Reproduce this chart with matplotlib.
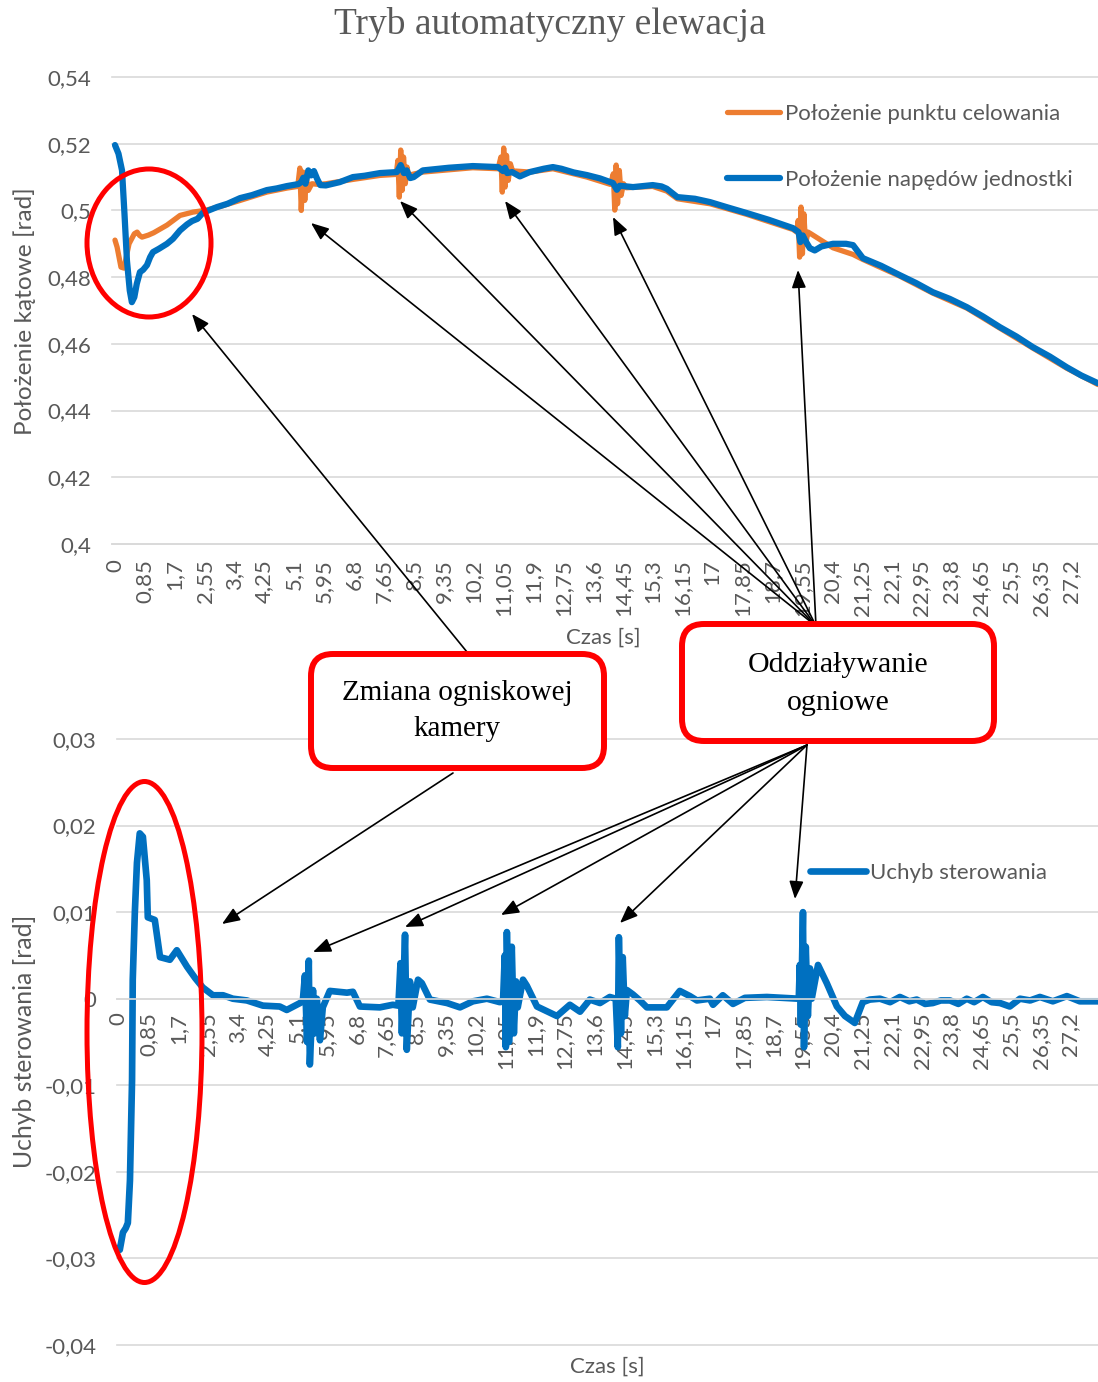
import matplotlib
matplotlib.use("Agg")
import matplotlib.pyplot as plt
from matplotlib.transforms import Affine2D
from matplotlib.patches import Ellipse, FancyBboxPatch, FancyArrowPatch

# ---------------- data ----------------
# aiming point position [rad]
aim_t = [0.00, 0.06, 0.17, 0.26, 0.32, 0.40, 0.55, 0.63, 0.70, 0.77, 0.95, 1.10, 1.48, 1.85,
         2.22, 2.56, 3.00, 3.56, 4.32, 4.89, 5.20,
         5.26, 5.30, 5.35, 5.40, 5.45, 5.50, 5.60, 5.80, 6.00, 6.77, 7.54, 8.00,
         8.05, 8.09, 8.13, 8.17, 8.21, 8.26, 8.31, 8.36, 8.45, 8.76, 10.18, 10.90,
         10.98, 11.02, 11.06, 11.10, 11.14, 11.19, 11.25, 11.32, 11.40, 11.80, 12.46, 13.43, 14.10,
         14.18, 14.22, 14.26, 14.30, 14.35, 14.40, 14.47, 14.55, 15.30, 15.70, 16.00, 16.93, 17.98,
         19.29, 19.40, 19.44, 19.48, 19.52, 19.56, 19.60, 19.65, 19.72, 19.80,
         20.43, 21.00, 21.28, 22.33, 23.27, 24.24, 25.18, 26.12, 27.08, 27.97]
aim_v = [0.4911, 0.4890, 0.4830, 0.4827, 0.4860, 0.4900, 0.4930, 0.4935, 0.4925, 0.4920, 0.4926,
         0.4933, 0.4956, 0.4985, 0.4995, 0.5000, 0.5012, 0.5030, 0.5055, 0.5067, 0.5072,
         0.5127, 0.5000, 0.5115, 0.5030, 0.5095, 0.5060, 0.5080, 0.5078, 0.5080, 0.5093, 0.5105, 0.5108,
         0.5150, 0.5040, 0.5181, 0.5060, 0.5160, 0.5080, 0.5130, 0.5100, 0.5108, 0.5115, 0.5128, 0.5125,
         0.5160, 0.5055, 0.5187, 0.5070, 0.5165, 0.5090, 0.5140, 0.5115, 0.5118, 0.5115, 0.5125, 0.5100, 0.5078,
         0.5110, 0.5001, 0.5136, 0.5020, 0.5120, 0.5045, 0.5080, 0.5068, 0.5072, 0.5058, 0.5035, 0.5020, 0.4988,
         0.4943, 0.4935, 0.4970, 0.4860, 0.5010, 0.4870, 0.4990, 0.4900, 0.4935, 0.4930,
         0.4888, 0.4868, 0.4853, 0.4803, 0.4752, 0.4707, 0.4647, 0.4587, 0.4527, 0.4478]

# drive unit position [rad]
drive_t = [0.00, 0.10, 0.20, 0.27, 0.34, 0.42, 0.48, 0.55, 0.62, 0.71, 0.80, 0.91, 1.00, 1.08, 1.25,
           1.48, 1.65, 1.85, 2.05, 2.19, 2.35, 2.50, 2.90, 3.20, 3.56, 3.90, 4.32, 4.60, 4.89, 5.22,
           5.30, 5.36, 5.42, 5.50, 5.58, 5.66, 5.75, 5.84, 6.00, 6.40, 6.77, 7.10, 7.54, 8.02,
           8.13, 8.22, 8.30, 8.40, 8.50, 8.76, 9.50, 10.18, 10.90,
           11.04, 11.10, 11.16, 11.30, 11.52, 11.80, 12.20, 12.46, 12.70, 13.05, 13.43, 13.80, 14.17,
           14.28, 14.36, 14.74, 15.30, 15.55, 15.70, 16.00, 16.50, 16.93, 17.40, 17.98, 18.60, 19.29,
           19.45, 19.50, 19.57, 19.64, 19.77, 19.91, 20.10, 20.43, 20.80, 21.00, 21.28,
           21.80, 22.33, 22.80, 23.27, 23.75, 24.24, 24.70, 25.18, 25.65, 26.12, 26.60, 27.08,
           27.50, 27.97]
drive_v = [0.5196, 0.5170, 0.5120, 0.4990, 0.4850, 0.4760, 0.4725, 0.4740, 0.4780, 0.4815, 0.4822,
           0.4836, 0.4860, 0.4875, 0.4885, 0.4900, 0.4915, 0.4940, 0.4958, 0.4968, 0.4975, 0.4993,
           0.5010, 0.5020, 0.5037, 0.5046, 0.5061, 0.5066, 0.5073, 0.5079,
           0.5085, 0.5098, 0.5080, 0.5120, 0.5105, 0.5118, 0.5095, 0.5076, 0.5075, 0.5085, 0.5100,
           0.5104, 0.5112, 0.5115,
           0.5136, 0.5112, 0.5120, 0.5097, 0.5100, 0.5120, 0.5128, 0.5133, 0.5130,
           0.5118, 0.5128, 0.5112, 0.5115, 0.5102, 0.5115, 0.5125, 0.5130, 0.5125, 0.5114, 0.5106,
           0.5096, 0.5082,
           0.5062, 0.5074, 0.5070, 0.5076, 0.5072, 0.5065, 0.5040, 0.5035, 0.5025, 0.5010, 0.4992,
           0.4972, 0.4947,
           0.4935, 0.4905, 0.4925, 0.4910, 0.4887, 0.4880, 0.4892, 0.4900, 0.4900, 0.4896, 0.4857,
           0.4834, 0.4806, 0.4782, 0.4755, 0.4735, 0.4710, 0.4682, 0.4650, 0.4622, 0.4590, 0.4562,
           0.4530, 0.4505, 0.4482]

# control error [rad]
err_t = [0.00, 0.04, 0.13, 0.21, 0.27, 0.33, 0.39, 0.41, 0.47, 0.53, 0.61, 0.70, 0.81, 0.84,
         1.04, 1.19, 1.47, 1.67, 1.96, 2.19, 2.41, 2.70, 2.99, 3.27, 3.67, 4.13, 4.61, 4.81, 5.19,
         5.27, 5.33, 5.39, 5.44, 5.47, 5.56, 5.61, 5.67, 5.76, 5.84, 6.04, 6.53, 6.70, 6.90,
         7.47, 7.84, 8.00, 8.06, 8.10, 8.19, 8.24, 8.33, 8.41, 8.56, 8.67, 8.90, 9.39, 9.76,
         10.13, 10.53, 10.90, 10.99, 11.04, 11.07, 11.10, 11.16, 11.24, 11.30, 11.36, 11.41,
         11.56, 11.67, 11.96, 12.53, 12.90, 13.19, 13.47, 13.76, 14.04,
         14.21, 14.27, 14.30, 14.36, 14.41, 14.47, 14.53, 14.70, 14.90, 15.10, 15.67, 16.04,
         16.33, 16.53, 16.90, 16.99, 17.27, 17.56, 17.90, 18.53, 19.39,
         19.44, 19.47, 19.50, 19.56, 19.59, 19.64, 19.70, 19.76, 19.81, 19.99, 20.24, 20.53,
         20.76, 21.04, 21.27, 21.47, 21.76, 22.05, 22.33, 22.60, 22.81, 23.05, 23.27, 23.50,
         23.76, 24.00, 24.24, 24.45, 24.70, 24.95, 25.19, 25.47, 25.76, 26.05, 26.33, 26.70,
         27.10, 27.47, 27.99]
err_v = [-0.0288, -0.0290, -0.0270, -0.0265, -0.0259, -0.0210, -0.0094, 0.0022, 0.0100, 0.0157,
         0.0191, 0.0187, 0.0137, 0.0094, 0.0091, 0.0048, 0.0045, 0.0056, 0.0037, 0.0024, 0.0013,
         0.0004, 0.0004, 0.0000, -0.0002, -0.0008, -0.0009, -0.0013, -0.0005,
         -0.0002, 0.0027, -0.0050, 0.0044, -0.0076, 0.0010, -0.0040, 0.0000, -0.0048, -0.0010,
         0.0009, 0.0007, 0.0008, -0.0009,
         -0.0010, -0.0007, -0.0008, 0.0041, -0.0040, 0.0074, -0.0059, 0.0020, -0.0010, 0.0022,
         0.0018, -0.0001, -0.0005, -0.0010,
         -0.0003, 0.0000, -0.0004, -0.0003, 0.0050, -0.0056, 0.0077, -0.0050, 0.0060, -0.0040,
         0.0020, -0.0010,
         0.0022, 0.0015, -0.0009, -0.0020, -0.0007, -0.0015, -0.0001, -0.0005, 0.0002,
         0.0000, -0.0056, 0.0071, -0.0040, 0.0048, -0.0020, 0.0010, 0.0005, -0.0002, -0.0010,
         -0.0010, 0.0009,
         0.0003, -0.0002, 0.0000, -0.0007, 0.0004, -0.0006, 0.0001, 0.0002, 0.0000,
         0.0000, 0.0039, -0.0030, 0.0100, -0.0056, 0.0060, -0.0020, 0.0035, 0.0000, 0.0039,
         0.0018, -0.0009,
         -0.0020, -0.0028, -0.0004, -0.0001, 0.0000, -0.0004, 0.0002, -0.0003, -0.0001, -0.0006,
         -0.0005, -0.0002, -0.0002, -0.0006, 0.0000, -0.0004, 0.0002, -0.0004, -0.0005, -0.0009,
         0.0000, -0.0002, 0.0002, -0.0003, 0.0003, -0.0003, -0.0003]

x_ticks = [0, 0.85, 1.7, 2.55, 3.4, 4.25, 5.1, 5.95, 6.8, 7.65, 8.5, 9.35, 10.2, 11.05, 11.9,
           12.75, 13.6, 14.45, 15.3, 16.15, 17, 17.85, 18.7, 19.55, 20.4, 21.25, 22.1, 22.95,
           23.8, 24.65, 25.5, 26.35, 27.2]
x_tick_labels = ["0", "0,85", "1,7", "2,55", "3,4", "4,25", "5,1", "5,95", "6,8", "7,65", "8,5",
                 "9,35", "10,2", "11,05", "11,9", "12,75", "13,6", "14,45", "15,3", "16,15", "17",
                 "17,85", "18,7", "19,55", "20,4", "21,25", "22,1", "22,95", "23,8", "24,65",
                 "25,5", "26,35", "27,2"]
top_y_ticks = [0.40, 0.42, 0.44, 0.46, 0.48, 0.50, 0.52, 0.54]
top_y_labels = ["0,4", "0,42", "0,44", "0,46", "0,48", "0,5", "0,52", "0,54"]
bot_y_ticks = [-0.04, -0.03, -0.02, -0.01, 0.0, 0.01, 0.02, 0.03]
bot_y_labels = ["-0,04", "-0,03", "-0,02", "-0,01", "0", "0,01", "0,02", "0,03"]

# ---------------- styling ----------------
W, H, DPI = 1098, 1382, 100
ORANGE = "#ED7D31"
BLUE = "#0070C0"
GRID = "#D9D9D9"
TXT = "#595959"
SANS = ["Lato", "DejaVu Sans"]
SERIF = ["Liberation Serif", "DejaVu Serif"]
FS = 16

plt.rcParams["font.family"] = SANS

fig = plt.figure(figsize=(W / DPI, H / DPI), dpi=DPI)
px = Affine2D().scale(1 / DPI, -1 / DPI).translate(0, H / DPI) + fig.dpi_scale_trans


def style_axes(ax, yticks, ylabels):
    for s in ("top", "right", "left"):
        ax.spines[s].set_visible(False)
    ax.spines["bottom"].set_color(GRID)
    ax.spines["bottom"].set_linewidth(1.2)
    ax.set_xticks(x_ticks)
    ax.set_xticklabels(x_tick_labels)
    ax.set_yticks(yticks)
    ax.set_yticklabels(ylabels)
    ax.tick_params(axis="both", length=0, labelsize=FS, labelcolor=TXT)
    ax.tick_params(axis="x", labelrotation=90)
    ax.tick_params(axis="y", pad=15)
    ax.grid(axis="y", color=GRID, linewidth=1.2)
    ax.grid(axis="x", visible=False)
    for gl in ax.get_ygridlines():
        gl.set_clip_on(False)
    ax.set_axisbelow(True)


# ---- upper chart: positions ----
ax1 = fig.add_axes([112 / W, 1 - 544 / H, (1098 - 112) / W, (544 - 77) / H])
ax1.plot(aim_t, aim_v, color=ORANGE, lw=3.8, solid_joinstyle="round",
         solid_capstyle="round", label="Położenie punktu celowania")
ax1.plot(drive_t, drive_v, color=BLUE, lw=4.5, solid_joinstyle="round",
         solid_capstyle="round", label="Położenie napędów jednostki")
ax1.set_xlim(-0.085, 27.97)
ax1.set_ylim(0.40, 0.54)
style_axes(ax1, top_y_ticks, top_y_labels)
ax1.tick_params(axis="x", pad=11)
ax1.legend(loc="upper left", bbox_to_anchor=(727, 104), bbox_transform=px, frameon=False,
           borderpad=0, borderaxespad=0, handlelength=2.4, handletextpad=0.2,
           labelspacing=2.05, fontsize=FS, labelcolor=TXT)

# ---- lower chart: control error ----
ax2 = fig.add_axes([117 / W, 1 - 1345 / H, (1098 - 117) / W, (1345 - 739) / H])
ax2.plot(err_t, err_v, color=BLUE, lw=4.8, solid_joinstyle="round",
         solid_capstyle="round", label="Uchyb sterowania")
ax2.set_xlim(-0.04, 27.99)
ax2.set_ylim(-0.04, 0.03)
ax2.spines["bottom"].set_position(("data", 0))
style_axes(ax2, bot_y_ticks, bot_y_labels)
ax2.tick_params(axis="x", pad=10)
ax2.legend(loc="upper left", bbox_to_anchor=(810, 863), bbox_transform=px, frameon=False,
           borderpad=0, borderaxespad=0, handlelength=2.5, handletextpad=0.2,
           fontsize=FS, labelcolor=TXT)

# ---- titles and axis names ----
fig.text(550, 25, "Tryb automatyczny elewacja", transform=px, ha="center", va="center",
         fontsize=27, color=TXT, family=SERIF)
fig.text(603, 638, "Czas [s]", transform=px, ha="center", va="center", fontsize=FS, color=TXT)
fig.text(607, 1367, "Czas [s]", transform=px, ha="center", va="center", fontsize=FS, color=TXT)
fig.text(25, 311, "Położenie kątowe [rad]", transform=px, ha="center", va="center",
         rotation=90, fontsize=17.6, color=TXT)
fig.text(25, 1041, "Uchyb sterowania [rad]", transform=px, ha="center", va="center",
         rotation=90, fontsize=17.8, color=TXT)

# ---- annotations: highlight ellipses ----
RED = "#FF0000"
fig.add_artist(Ellipse((149, 243), 124, 148, transform=px, fill=False, ec=RED, lw=3.6, zorder=5))
fig.add_artist(Ellipse((144.5, 1032), 115, 501, transform=px, fill=False, ec=RED, lw=3.6, zorder=5))

# ---- annotations: arrows ----
arrow_kw = dict(transform=px, arrowstyle="-|>,head_length=0.9,head_width=0.36",
                mutation_scale=12, lw=1.2, color="black", shrinkA=0, shrinkB=0, zorder=6)
focus_src_top, focus_src_bot = (467, 652), (453, 773)
fig.add_artist(FancyArrowPatch(focus_src_top, (192, 314), **arrow_kw))
fig.add_artist(FancyArrowPatch(focus_src_bot, (222, 924), **arrow_kw))

fire_src_top, fire_src_bot = (816, 626), (807, 745)
for tgt in [(311, 223), (400, 201), (505, 201), (613, 217), (798, 270)]:
    fig.add_artist(FancyArrowPatch(fire_src_top, tgt, **arrow_kw))
for tgt in [(313, 952), (405, 927), (501, 915), (620, 923), (795, 899)]:
    fig.add_artist(FancyArrowPatch(fire_src_bot, tgt, **arrow_kw))

# ---- annotations: callout boxes ----
box_kw = dict(boxstyle="round,pad=0,rounding_size=22", transform=px, fc="white",
              ec=RED, lw=4.3, zorder=7)
fig.add_artist(FancyBboxPatch((311, 654), 293, 114, **box_kw))
fig.add_artist(FancyBboxPatch((682, 624), 312, 117, **box_kw))
fig.text(457, 711, "Zmiana ogniskowej\nkamery", transform=px, ha="center", va="center",
         fontsize=21, color="black", family=SERIF, linespacing=1.5, zorder=8)
fig.text(838, 684, "Oddziaływanie\nogniowe", transform=px, ha="center", va="center",
         fontsize=21.5, color="black", family=SERIF, linespacing=1.58, zorder=8)

fig.savefig("out.png", dpi=DPI)
